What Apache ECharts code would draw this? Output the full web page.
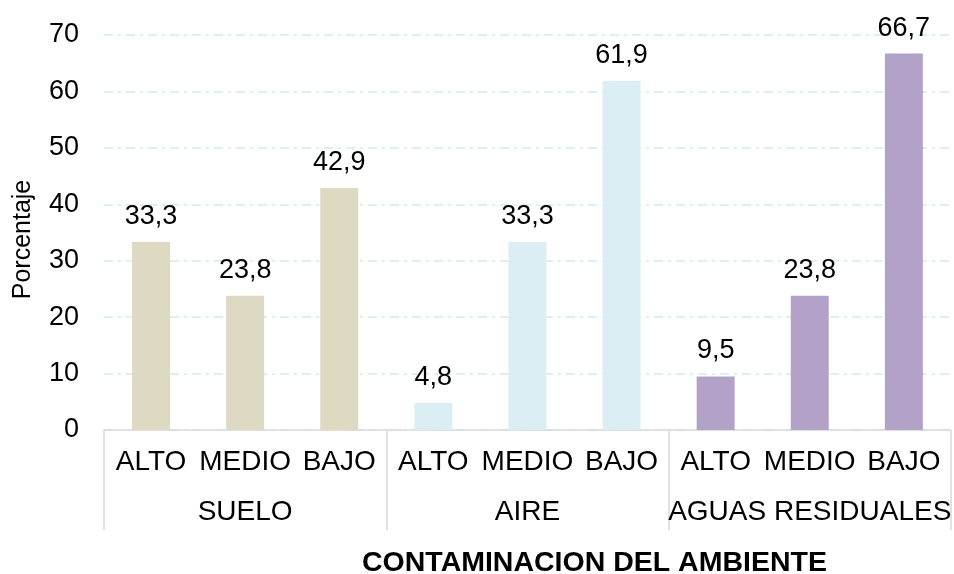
<!DOCTYPE html>
<html>
<head>
<meta charset="utf-8">
<script src="https://cdn.jsdelivr.net/npm/echarts@6/dist/echarts.min.js"></script>
<style>
  html, body { margin: 0; padding: 0; background: #fff; }
  #chart { width: 954px; height: 574px; }
</style>
</head>
<body>
<div id="chart"></div>
<script>
// niveles y grupos
var niveles = ['ALTO', 'MEDIO', 'BAJO', 'ALTO', 'MEDIO', 'BAJO', 'ALTO', 'MEDIO', 'BAJO'];
var grupos = ['SUELO', 'AIRE', 'AGUAS RESIDUALES'];
var valores = [33.3, 23.8, 42.9, 4.8, 33.3, 61.9, 9.5, 23.8, 66.7];
var coloresGrupo = ['#ddd9c3', '#daeef3', '#b2a2c7'];
var yTicks = [0, 10, 20, 30, 40, 50, 60, 70];

var FONT = '"Liberation Sans", Arial, sans-serif';

var chart = echarts.init(document.getElementById('chart'));

var barData = [];
for (var i = 0; i < valores.length; i++) {
  barData.push({
    value: valores[i],
    itemStyle: { color: coloresGrupo[Math.floor(i / 3)] }
  });
}

var option = {
  animation: false,
  textStyle: { fontFamily: FONT },
  title: {
    text: 'CONTAMINACION DEL AMBIENTE',
    left: 362,
    top: 549,
    padding: 0,
    textStyle: { fontFamily: FONT, fontSize: 28.5, fontWeight: 'bold', color: '#000' }
  },
  grid: { left: 104, right: 1, top: 35, bottom: 144, containLabel: false },
  xAxis: [{
    type: 'category',
    data: niveles,
    position: 'bottom',
    offset: 0,
    axisLine: { show: false },
    axisTick: { show: false },
    axisLabel: { interval: 0, margin: 18, fontSize: 28, color: '#000', fontFamily: FONT }
  }, {
    type: 'category',
    data: grupos,
    position: 'bottom',
    offset: 0,
    axisLine: { show: true, lineStyle: { color: '#d9d9d9', width: 1.5 } },
    axisTick: { show: true, length: 100, lineStyle: { color: '#d9d9d9', width: 1.5 } },
    axisLabel: { interval: 0, margin: 68, fontSize: 28, color: '#000', fontFamily: FONT }
  }],
  yAxis: {
    type: 'value',
    min: yTicks[0],
    max: yTicks[yTicks.length - 1],
    interval: 10,
    name: 'Porcentaje',
    nameLocation: 'middle',
    nameGap: 68,
    nameTextStyle: { fontSize: 25, color: '#000', fontFamily: FONT, padding: [0, 14, 0, 0] },
    axisLine: { show: false },
    axisTick: { show: false },
    axisLabel: { margin: 25, fontSize: 27, color: '#000', fontFamily: FONT },
    splitLine: { lineStyle: { color: '#d3eaf0', width: 1.5, type: [9, 5, 3, 5] } }
  },
  series: [{
    type: 'bar',
    xAxisIndex: 0,
    data: barData,
    barWidth: 38,
    label: {
      show: true,
      position: 'top',
      distance: 12,
      fontSize: 27,
      color: '#000',
      fontFamily: FONT,
      formatter: function(p) {
        return p.value.toFixed(1).replace('.', ',');
      }
    }
  }]
};

chart.setOption(option);
</script>
</body>
</html>
